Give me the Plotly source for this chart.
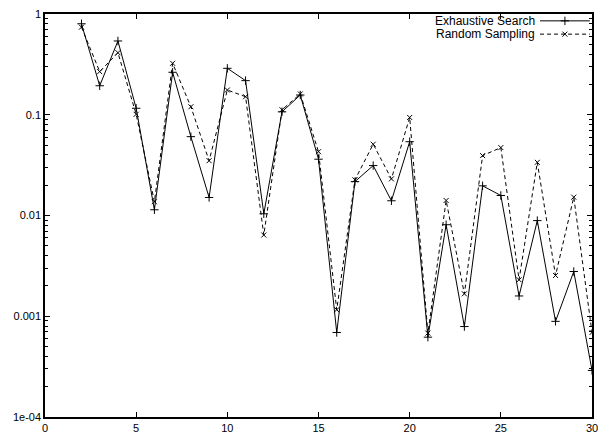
import plotly.graph_objects as go

# Problem size on the x axis
sizes = list(range(2, 31))

# Error measured for each method (log scale)
exhaustive_search = [
    0.80, 0.194, 0.54, 0.116, 0.0114, 0.264, 0.0606, 0.0151, 0.289, 0.218,
    0.0104, 0.107, 0.157, 0.0362, 0.00069, 0.0217, 0.0313, 0.0140, 0.054,
    0.00062, 0.0081, 0.00079, 0.0197, 0.0158, 0.00159, 0.0089, 0.00089,
    0.00278, 0.00029,
]
random_sampling = [
    0.74, 0.268, 0.413, 0.101, 0.0137, 0.324, 0.120, 0.035, 0.176, 0.151,
    0.0064, 0.112, 0.161, 0.043, 0.00116, 0.0226, 0.051, 0.0231, 0.094,
    0.00068, 0.0141, 0.00167, 0.0393, 0.0472, 0.0023, 0.0337, 0.00254,
    0.0152, 0.00069,
]

series_names = ["Exhaustive Search", "Random Sampling"]
x_ticks = [0, 5, 10, 15, 20, 25, 30]
y_ticks = [1e-4, 1e-3, 1e-2, 1e-1, 1]
y_tick_text = ["1e-04", "0.001", "0.01", "0.1", "1"]
# minor ticks at 2..9 within each decade
y_minor = [k * 10.0 ** e for e in range(-4, 0) for k in range(2, 10)]

FONT = "Liberation Sans, Arial, Helvetica, sans-serif"
INK = "black"

fig = go.Figure()

fig.add_trace(go.Scatter(
    x=sizes, y=exhaustive_search, mode="lines+markers", name=series_names[0],
    line=dict(color=INK, width=1),
    marker=dict(symbol="cross-thin", size=6, line=dict(color=INK, width=1)),
    showlegend=False,
))
fig.add_trace(go.Scatter(
    x=sizes, y=random_sampling, mode="lines+markers", name=series_names[1],
    line=dict(color=INK, width=1, dash="4px,3px"),
    marker=dict(symbol="x-thin", size=5, line=dict(color=INK, width=1)),
    showlegend=False,
))

# Key in the top-right corner: label on the left, line sample on the right
key_rows = [0.983, 0.950]
key_styles = [("solid", "cross-thin", 6), ("4px,3px", "x-thin", 5)]
for name, row, (dash, sym, sz) in zip(series_names, key_rows, key_styles):
    fig.add_trace(go.Scatter(
        x=[0.905, 0.9505, 0.996], y=[row, row, row], mode="lines",
        line=dict(color=INK, width=1, dash=dash),
        xaxis="x2", yaxis="y2", showlegend=False, hoverinfo="skip",
    ))
    fig.add_trace(go.Scatter(
        x=[0.9505], y=[row], mode="markers",
        marker=dict(symbol=sym, size=sz, line=dict(color=INK, width=1)),
        xaxis="x2", yaxis="y2", showlegend=False, hoverinfo="skip",
    ))
    fig.add_annotation(
        x=0.899, y=row, xref="paper", yref="paper", text=name,
        showarrow=False, xanchor="right", yanchor="middle",
        font=dict(family=FONT, size=12, color=INK),
    )

fig.update_layout(
    width=600, height=435,
    margin=dict(l=45, r=8, t=14, b=18),
    paper_bgcolor="white", plot_bgcolor="white",
    font=dict(family=FONT, size=11, color=INK),
    xaxis=dict(
        range=[0, 30], tickvals=x_ticks, ticks="inside", ticklen=5,
        tickcolor=INK, showline=True, linecolor=INK, linewidth=1.5,
        mirror="allticks", showgrid=False, zeroline=False, automargin=False,
        tickfont=dict(family=FONT, size=11, color=INK),
    ),
    yaxis=dict(
        type="log", range=[-4, 0], tickvals=y_ticks, ticktext=y_tick_text,
        ticks="inside", ticklen=5, tickcolor=INK, showline=True,
        linecolor=INK, linewidth=1.5, mirror="allticks", showgrid=False,
        zeroline=False, automargin=False,
        tickfont=dict(family=FONT, size=11, color=INK),
        minor=dict(ticks="inside", ticklen=3, tickcolor=INK,
                   tickmode="array", tickvals=y_minor, showgrid=False),
    ),
    xaxis2=dict(overlaying="x", range=[0, 1], visible=False),
    yaxis2=dict(overlaying="y", range=[0, 1], visible=False),
)

fig.write_html("out.html")
